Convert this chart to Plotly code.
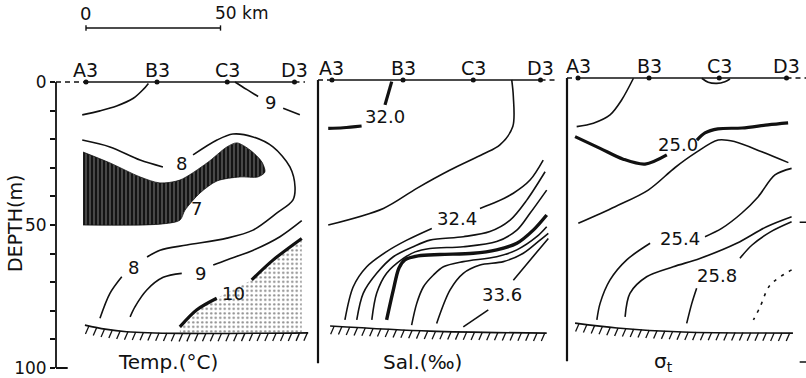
import numpy as np
import plotly.graph_objects as go

# ---------------- stations and depth axis ----------------
stations = ["A3", "B3", "C3", "D3"]
station_km = [0.0, 26.4, 52.5, 77.5]
depth_ticks = [0, 10, 20, 30, 40, 50, 60, 70, 80, 90, 100]
depth_ticktext = ["0", "", "", "", "", "50", "", "", "", "", "100"]

# ---------------- Temperature (°C) section ----------------
t9_left_km = [-1.4, 5.2, 11.4, 17.6, 21.3, 23.2]
t9_left_depth = [11.5, 10.1, 8.4, 5.7, 2.6, 0.5]
t9_right_km = [55.4, 59.7, 64.0, None, 73.3, 79.5]
t9_right_depth = [0.0, 2.6, 5.1, None, 9.2, 11.5]

t8_km = [-1.4, 8.9, 20.1, 28.6, None, 39.8, 48.7, 54.6, 62.1, 69.5, 75.8, 77.7,
         76.9, 71.0, 62.1, 52.4, 37.5, 27.5, 22.7, None, 13.3, 8.9, 5.2]
t8_depth = [20.3, 22.7, 27.3, 29.7, None, 25.5, 20.3, 18.2, 19.2, 22.7, 29.7, 36.7,
            41.3, 45.8, 51.8, 54.6, 57.0, 58.8, 61.2, None, 68.1, 73.9, 82.6]

t7_core_km = [-1.1, 8.9, 20.1, 27.5, 34.9, 45.0, 52.4, 56.1, 61.0, 65.4, 66.5, 63.9,
              57.2, 48.7, 42.4, 36.8, 34.9, 27.5, -1.1]
t7_core_depth = [24.5, 28.3, 33.2, 35.3, 34.3, 28.3, 22.7, 21.3, 23.8, 28.0, 31.5, 33.2,
                 33.2, 34.6, 38.8, 44.8, 48.3, 49.7, 50.0]

t9_deep_km = [80.2, 72.1, 62.2, 52.3, 47.3, None, 35.6, 28.7, 22.6, 18.2, 16.4]
t9_deep_depth = [48.5, 54.1, 58.8, 62.2, 64.0, None, 66.9, 68.3, 72.7, 78.6, 82.1]

t10_km = [80.2, 69.6, 61.6, None, 48.6, 41.1, 34.9]
t10_depth = [54.7, 62.2, 69.2, None, 75.6, 79.7, 85.6]

temp_floor_km = [-0.4, 7.1, 15.1, 34.9, 82.6]
temp_floor_depth = [85.0, 86.4, 87.3, 87.9, 87.7]

temp_labels = ["9", "8", "8", "7", "9", "10"]
temp_label_km = [68.4, 35.6, 17.5, 41.2, 42.4, 54.8]
temp_label_depth = [7.3, 28.4, 64.7, 44.1, 67.1, 73.9]

# ---------------- Salinity (‰) section ----------------
s320_km = [22.2, 19.7, None, 11.0, 4.2, -1.4]
s320_depth = [0.6, 8.7, None, 16.1, 16.7, 16.9]
s322_km = [66.8, 67.4, 67.2, 62.4, 56.2, 43.9, 31.5, 19.1, -1.4]
s322_depth = [0.0, 5.8, 16.3, 22.7, 25.9, 31.5, 37.9, 44.9, 50.7]
s324_km = [78.5, 73.6, 67.4, 61.2, 55.0, None, 37.1, 27.8, 20.3, 12.9, 7.9, 4.8]
s324_depth = [28.0, 35.0, 39.6, 42.6, 44.9, None, 51.9, 56.0, 60.0, 65.3, 72.3, 83.9]
s326_km = [79.2, 72.4, 66.2, 58.7, 48.8, 36.4, 30.2, 22.8, 16.6, 11.6, 9.2]
s326_depth = [32.1, 42.0, 49.0, 53.0, 54.8, 56.0, 58.3, 61.8, 67.6, 74.6, 83.9]
s328_km = [79.8, 73.6, 68.7, 61.2, 48.8, 36.4, 30.9, 26.5, 20.3, 16.6, 14.8]
s328_depth = [38.5, 46.6, 52.5, 56.5, 58.3, 58.9, 60.1, 62.4, 67.6, 74.6, 83.9]
s330_km = [79.8, 74.8, 68.7, 61.2, 52.5, 40.1, 32.0, 27.1, 24.9, 22.8, 20.3]
s330_depth = [47.2, 52.5, 57.1, 59.4, 60.6, 61.0, 61.5, 62.9, 65.7, 73.4, 83.9]
s332_km = [79.8, 76.1, 68.7, 61.2, 48.8, 41.4, 37.7, 34.0, 31.5, 29.6]
s332_depth = [51.3, 54.8, 59.4, 61.8, 63.5, 65.3, 68.2, 72.3, 78.1, 85.7]
s334_km = [80.4, 77.3, 71.1, 63.7, 55.0, 48.8, 43.9, 38.9]
s334_depth = [53.6, 56.0, 60.6, 63.5, 64.7, 67.6, 73.4, 85.1]
s336_km = [80.4, 73.6, 67.4, None, 58.1, 48.8]
s336_depth = [55.4, 63.0, 70.0, None, 80.4, 86.3]

sal_floor_km = [-0.7, 36.4, 79.8]
sal_floor_depth = [86.0, 87.8, 88.5]

sal_labels = ["32.0", "32.4", "33.6"]
sal_label_km = [19.7, 46.5, 63.2]
sal_label_depth = [12.9, 48.3, 75.0]

# ---------------- Sigma-t section ----------------
d248_km = [20.6, 16.2, 11.9, 5.7, -0.5]
d248_depth = [0.1, 7.7, 12.9, 15.8, 17.0]
d_c3_km = [46.0, 48.4, 51.6, 54.6, 56.5]
d_c3_depth = [0.1, 1.5, 1.9, 1.3, 0.35]
d250_km = [-1.1, 8.2, 16.8, 24.9, 33.0, None, 44.2, 47.2, 52.0, 61.0, 70.6, 78.1]
d250_depth = [20.5, 24.6, 28.4, 30.1, 26.9, None, 21.7, 19.2, 17.8, 17.5, 16.4, 15.7]
d252_km = [0.1, 13.8, 26.1, 36.1, 43.5, 52.1, 58.4, 68.3, 78.2]
d252_depth = [50.8, 45.0, 39.2, 31.3, 26.3, 21.7, 22.3, 25.8, 29.6]
d254_km = [79.4, 73.2, 67.0, 60.8, 53.4, 47.2, None, 26.8, 18.1, 11.9, 8.2, 7.0]
d254_depth = [31.6, 33.9, 41.5, 47.3, 52.6, 55.5, None, 57.8, 63.6, 70.6, 78.8, 84.6]
d256_km = [79.4, 70.1, 59.0, 45.3, 35.4, 25.5, 19.3, 17.5]
d256_depth = [48.5, 52.0, 57.8, 63.1, 66.0, 69.5, 75.3, 83.5]
d258_km = [79.4, 71.4, 64.7, 60.2, None, 44.1, 42.3, 40.4]
d258_depth = [50.3, 53.9, 58.4, 63.0, None, 73.5, 78.8, 85.8]
d260_km = [79.4, 71.4, 67.7, 65.2]
d260_depth = [67.1, 72.4, 80.0, 84.6]

sig_floor_km = [-1.1, 14.5, 39.0, 79.9]
sig_floor_depth = [85.7, 87.4, 88.8, 89.2]

sig_labels = ["25.0", "25.4", "25.8"]
sig_label_km = [37.2, 37.9, 51.7]
sig_label_depth = [23.1, 56.0, 68.9]

panel_titles = ["Temp.(°C)", "Sal.(‰)", "σ<sub>t</sub>"]
title_km = [30.5, 33.8, 31.6]
title_depth = [97.9, 98.6, 99.3]

# ---------------- drawing ----------------
INK = "#111111"
FONT = "DejaVu Sans"
AX = [("x", "y"), ("x2", "y2"), ("x3", "y3")]
x_ranges = [[-11.15, 85.5], [-5.2, 86.6], [-4.1, 84.75]]
x_domains = [[56 / 806, 316 / 806], [318 / 806, 565 / 806], [567 / 806, 1.0]]
Y_RANGE = [103, -8]
y_domains = [[0.0037, 0.8437], [0.0090, 0.8490], [0.0143, 0.8543]]
surface_end_km = [81.4, 83.3, 84.75]

fig = go.Figure()


def line(x, y, p, width=1.6, dash=None, shape="spline"):
    fig.add_trace(go.Scatter(
        x=x, y=y, mode="lines", xaxis=AX[p][0], yaxis=AX[p][1],
        line=dict(color=INK, width=width, dash=dash, shape=shape, smoothing=0.9),
        hoverinfo="skip", showlegend=False))


def area(x, y, p, pattern, fillcolor="white"):
    fig.add_trace(go.Scatter(
        x=x, y=y, mode="lines", fill="toself", xaxis=AX[p][0], yaxis=AX[p][1],
        line=dict(color=INK, width=0.8, shape="spline", smoothing=0.8),
        fillcolor=fillcolor, fillpattern=pattern,
        hoverinfo="skip", showlegend=False))


def seafloor(xs, ds, p):
    line(xs, ds, p, width=1.6)
    xt = np.arange(xs[0] + 1.5, xs[-1] + 0.1, 2.9)
    dt = np.interp(xt, xs, ds)
    hx, hy = [], []
    for a, b in zip(xt, dt):
        hx += [a, a - 1.3, None]
        hy += [b, b + 2.8, None]
    line(hx, hy, p, width=1.3, shape="linear")


def text(s, x, y, p, size=18, **kw):
    fig.add_annotation(x=x, y=y, xref=AX[p][0], yref=AX[p][1], text=s,
                       showarrow=False, font=dict(family=FONT, size=size, color=INK),
                       xanchor="center", yanchor="middle", **kw)


def no_gaps(v):
    return [a for a in v if a is not None]


# cold core below 7 °C: dark vertical hatching (thin white streaks on black)
area(t7_core_km, t7_core_depth, 0,
     dict(shape="|", fgcolor="white", bgcolor="#141414", size=4, solidity=0.22),
     fillcolor="#141414")
# warm water above 10 °C: stippled
warm_km = no_gaps(t10_km) + [temp_floor_km[3], t10_km[0]]
warm_depth = no_gaps(t10_depth) + [np.interp(temp_floor_km[3], temp_floor_km, temp_floor_depth),
                                   np.interp(t10_km[0], temp_floor_km, temp_floor_depth)]
fig.add_trace(go.Scatter(
    x=warm_km, y=warm_depth, mode="lines", fill="toself", xaxis="x", yaxis="y",
    line=dict(width=0, color="rgba(0,0,0,0)"), fillcolor="white",
    fillpattern=dict(shape=".", fgcolor=INK, bgcolor="white", size=4.5, solidity=0.22),
    hoverinfo="skip", showlegend=False))

# temperature isotherms
line(t9_left_km, t9_left_depth, 0)
line(t9_right_km, t9_right_depth, 0)
line(t8_km, t8_depth, 0)
line(t9_deep_km, t9_deep_depth, 0)
line(t10_km, t10_depth, 0, width=3.2)
seafloor(temp_floor_km, temp_floor_depth, 0)

# salinity isohalines
line(s320_km, s320_depth, 1, width=3.2)
line(s322_km, s322_depth, 1)
line(s324_km, s324_depth, 1)
line(s326_km, s326_depth, 1)
line(s328_km, s328_depth, 1)
line(s330_km, s330_depth, 1, width=3.4)
line(s332_km, s332_depth, 1)
line(s334_km, s334_depth, 1)
line(s336_km, s336_depth, 1)
seafloor(sal_floor_km, sal_floor_depth, 1)

# sigma-t isopycnals
line(d248_km, d248_depth, 2)
line(d_c3_km, d_c3_depth, 2)
line(d250_km, d250_depth, 2, width=3.2)
line(d252_km, d252_depth, 2)
line(d254_km, d254_depth, 2)
line(d256_km, d256_depth, 2)
line(d258_km, d258_depth, 2)
line(d260_km, d260_depth, 2, dash="3px,6px")
seafloor(sig_floor_km, sig_floor_depth, 2)

# sea surface with stations
for p in range(3):
    line([x_ranges[p][0], station_km[0]], [0, 0], p, width=1.4, dash="5px,4px", shape="linear")
    line([station_km[0], station_km[-1]], [0, 0], p, width=1.4, shape="linear")
    line([station_km[-1], surface_end_km[p]], [0, 0], p, width=1.4, dash="5px,4px", shape="linear")
    fig.add_trace(go.Scatter(
        x=station_km, y=[0] * len(station_km), mode="markers",
        xaxis=AX[p][0], yaxis=AX[p][1], cliponaxis=False,
        marker=dict(color=INK, size=5), hoverinfo="skip", showlegend=False))
    for s, xk in zip(stations, station_km):
        text(s, xk, -4.2, p, size=19)
    text(panel_titles[p], title_km[p], title_depth[p], p, size=20)

for s, xk, dk in zip(temp_labels, temp_label_km, temp_label_depth):
    text(s, xk, dk, 0)
for s, xk, dk in zip(sal_labels, sal_label_km, sal_label_depth):
    text(s, xk, dk, 1)
for s, xk, dk in zip(sig_labels, sig_label_km, sig_label_depth):
    text(s, xk, dk, 2)

# frame lines: depth axis of the first section, left borders of the others
shapes = [
    dict(type="line", xref="x domain", yref="y", x0=0, x1=0, y0=0, y1=100,
         line=dict(color=INK, width=1.8)),
    dict(type="line", xref="x domain", yref="y", x0=0, x1=0.045, y0=100, y1=100,
         line=dict(color=INK, width=1.8)),
    dict(type="line", xref="x2 domain", yref="y2", x0=0, x1=0, y0=0, y1=99,
         line=dict(color=INK, width=2.2)),
    dict(type="line", xref="x3 domain", yref="y3", x0=0, x1=0, y0=0, y1=99,
         line=dict(color=INK, width=2.2)),
    # tick stubs of the following section at the right edge
    dict(type="line", xref="x3", yref="y3", x0=82.4, x1=84.75, y0=50.4, y1=50.4,
         line=dict(color=INK, width=1.5)),
    dict(type="line", xref="x3", yref="y3", x0=82.4, x1=84.75, y0=99.3, y1=99.3,
         line=dict(color=INK, width=1.5)),
]

# distance scale bar (0 - 50 km) above the first section
bar_y = 1 - 28 / 378
shapes += [
    dict(type="line", xref="x", yref="paper", x0=0, x1=50, y0=bar_y, y1=bar_y,
         line=dict(color=INK, width=1.6)),
    dict(type="line", xref="x", yref="paper", x0=0, x1=0, y0=bar_y - 0.007, y1=bar_y + 0.007,
         line=dict(color=INK, width=1.4)),
    dict(type="line", xref="x", yref="paper", x0=50, x1=50, y0=bar_y - 0.007, y1=bar_y + 0.007,
         line=dict(color=INK, width=1.4)),
]
fig.add_annotation(x=0, y=1 - 13 / 378, xref="x", yref="paper", text="0", showarrow=False,
                   font=dict(family=FONT, size=18, color=INK), xanchor="center", yanchor="middle")
fig.add_annotation(x=47.2, y=1 - 13 / 378, xref="x", yref="paper", text="50 km", showarrow=False,
                   font=dict(family=FONT, size=17, color=INK), xanchor="left", yanchor="middle")

fig.add_annotation(x=15 / 806, y=1 - 224 / 378, xref="paper", yref="paper", text="DEPTH(m)",
                   textangle=-90, showarrow=False, font=dict(family=FONT, size=19, color=INK),
                   xanchor="center", yanchor="middle")

layout = dict(width=806, height=378, margin=dict(l=0, r=0, t=0, b=0),
              paper_bgcolor="white", plot_bgcolor="white", shapes=shapes)
for p in range(3):
    xk = "xaxis" if p == 0 else f"xaxis{p + 1}"
    yk = "yaxis" if p == 0 else f"yaxis{p + 1}"
    layout[xk] = dict(domain=x_domains[p], range=x_ranges[p], visible=False,
                      anchor=AX[p][1])
    layout[yk] = dict(domain=y_domains[p], range=Y_RANGE, anchor=AX[p][0],
                      showgrid=False, zeroline=False, showline=False, visible=(p == 0))
layout["yaxis"].update(tickvals=depth_ticks, ticktext=depth_ticktext, ticks="outside",
                       ticklen=5, tickwidth=1.5, tickcolor=INK,
                       tickfont=dict(family=FONT, size=17, color=INK))
fig.update_layout(**layout)

fig.write_html("out.html")
